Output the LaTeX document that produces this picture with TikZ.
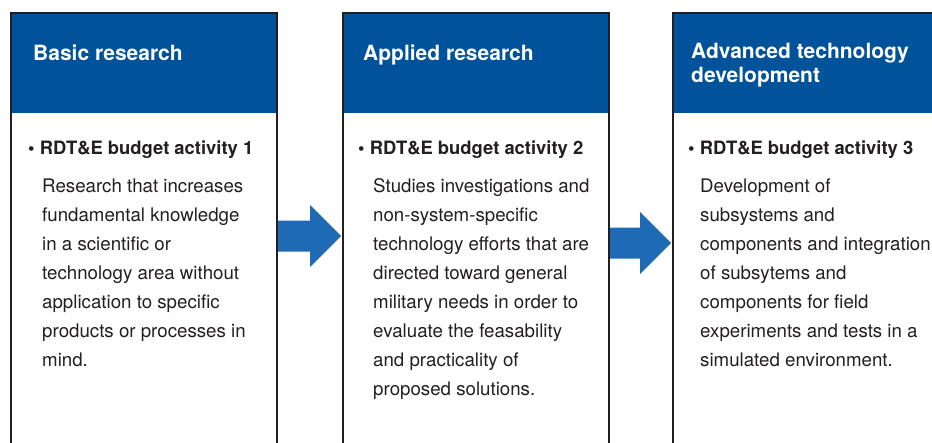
\documentclass[tikz,border=0pt]{standalone}
\usepackage{fontspec}
\setmainfont{TeX Gyre Heros}
\usetikzlibrary{calc}
\definecolor{hdblue}{RGB}{0,83,155}
\definecolor{arblue}{RGB}{31,106,181}
\definecolor{txgray}{RGB}{35,31,32}
\begin{document}
\begin{tikzpicture}[x=1pt,y=-1pt,
	frame/.style={draw=txgray,line width=2pt,minimum width=266pt,minimum height=460pt,anchor=north west,inner sep=0pt},
	title/.style={anchor=north west,inner sep=0pt,text=white,align=left,execute at begin node=\strut,font=\fontsize{21pt}{24pt}\selectfont\bfseries},
	bul/.style={anchor=base west,inner sep=0pt,text=txgray,font=\fontsize{18.4pt}{22pt}\selectfont\bfseries},
	body/.style={anchor=north west,inner sep=0pt,text=txgray,align=left,execute at begin node=\strut,font=\fontsize{18.7pt}{29pt}\selectfont}]
	\path[use as bounding box,clip] (0,0) rectangle (932,442);
	% three boxes with blue heads
	\foreach \n/\x in {boxa/10,boxb/342,boxc/672}{
		\fill[hdblue] (\x,12) rectangle ++(266,101);
		\node[frame] (\n) at (\x,12) {};
	}
	% block arrows
	\foreach \s/\t/\y [count=\i] in {boxa/boxb/236,boxb/boxc/243}{
		\coordinate (s\i) at (\s.east |- 0,\y);
		\coordinate (t\i) at ($(\t.west |- 0,\y)+(-1,0)$);
		\fill[arblue] ($(s\i)+(0,-15.5)$) -- ($(t\i)+(-31,-15.5)$) -- ($(t\i)+(-31,-31)$) -- (t\i)
			-- ($(t\i)+(-31,31)$) -- ($(t\i)+(-31,15.5)$) -- ($(s\i)+(0,15.5)$) -- cycle;
	}
	% texts
	\node[title] (ta) at (33,43.2) {Basic research};
	\node[title] (tb) at (363,43.2) {Applied research};
	\node[title] (tc) at (691,43.2) {Advanced technology\\development};
	\node[bul] (ba) at (28,154) {\textbullet\ RDT\&E budget activity 1};
	\node[bul] (bb) at (358,154) {\textbullet\ RDT\&E budget activity 2};
	\node[bul] (bc) at (688,154) {\textbullet\ RDT\&E budget activity 3};
	\node[body] (xa) at (42,178.7) {Research that increases\\fundamental knowledge\\in a scientific or\\technology area without\\application to specific\\products or processes in\\mind.};
	\node[body] (xb) at (373,178.7) {Studies investigations and\\non-system-specific\\technology efforts that are\\directed toward general\\military needs in order to\\evaluate the feasability\\and practicality of\\proposed solutions.};
	\node[body] (xc) at (700,178.7) {Development of\\subsystems and\\components and integration\\of subsytems and\\components for field\\experiments and tests in a\\simulated environment.};
\end{tikzpicture}
\end{document}
